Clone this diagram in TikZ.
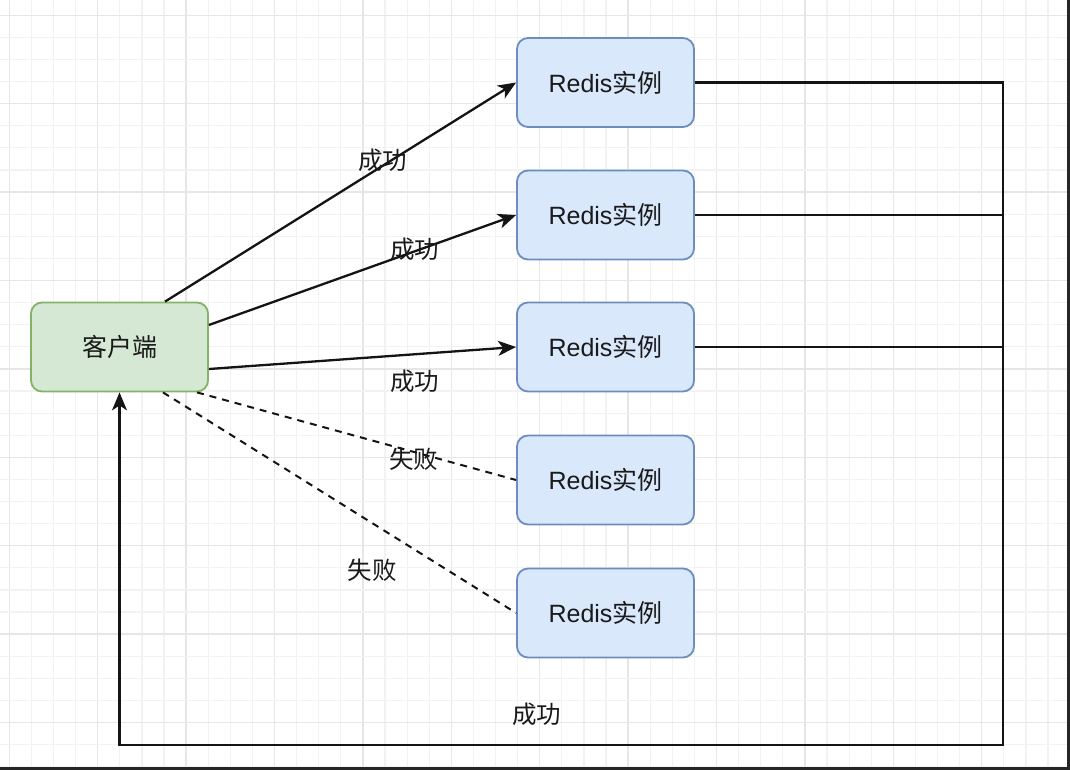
\documentclass[tikz,border=0pt]{standalone}
\usepackage{fontspec}
\setmainfont{Liberation Sans}
\newfontfamily\cjk{Noto Sans CJK SC}
\usetikzlibrary{arrows.meta,calc}
\definecolor{gridminor}{HTML}{F2F2F2}
\definecolor{gridmajor}{HTML}{E6E6E6}
\definecolor{greenfill}{HTML}{D5E8D4}
\definecolor{greendraw}{HTML}{82B366}
\definecolor{bluefill}{HTML}{DAE8FC}
\definecolor{bluedraw}{HTML}{6C8EBF}
\definecolor{txt}{HTML}{1A1A1A}
\tikzset{
  box/.style={rounded corners=11pt, minimum width=177pt, minimum height=89pt, line width=1.8pt, inner sep=0pt,
    font=\fontsize{25}{30}\selectfont, text=txt},
  clientbox/.style={box, fill=greenfill, draw=greendraw},
  redisbox/.style={box, fill=bluefill, draw=bluedraw},
  conn/.style={line width=2.3pt, draw=black!92},
  arr/.style={conn, -{Stealth[length=18pt,width=15pt,inset=5pt]}},
  dashline/.style={conn, line width=2pt, dash pattern=on 7pt off 6pt},
  lbl/.style={inner sep=1.5pt, font=\fontsize{24.5}{28}\selectfont\cjk, text=txt}
}
\begin{document}
\begin{tikzpicture}[x=1pt,y=-1pt]
\useasboundingbox (0,0) rectangle (1070,770);
% grid
\foreach \i in {0,...,48}{
  \pgfmathsetmacro{\gx}{9.3+22.1*\i}
  \pgfmathtruncatemacro{\m}{mod(\i,4)}
  \ifnum\m=0 \draw[gridmajor, line width=1.4pt] (\gx,0) -- (\gx,770);
  \else \draw[gridminor, line width=1.2pt] (\gx,0) -- (\gx,770); \fi
}
\foreach \j in {0,...,34}{
  \pgfmathsetmacro{\gy}{15.3+22.1*\j}
  \pgfmathtruncatemacro{\m}{mod(\j,4)}
  \ifnum\m=0 \draw[gridmajor, line width=1.4pt] (0,\gy) -- (1070,\gy);
  \else \draw[gridminor, line width=1.2pt] (0,\gy) -- (1070,\gy); \fi
}
% frame shadow
\fill[black!85] (1067,0) rectangle (1070,770);
\fill[black!85] (0,767) rectangle (1070,770);

% nodes
\node[clientbox] (client) at (119.5,347) {\cjk 客户端};
\node[redisbox] (r1) at (605.5,82.5) {Redis{\cjk 实例}};
\node[redisbox] (r2) at (605.5,215) {Redis{\cjk 实例}};
\node[redisbox] (r3) at (605.5,347) {Redis{\cjk 实例}};
\node[redisbox] (r4) at (605.5,480) {Redis{\cjk 实例}};
\node[redisbox] (r5) at (605.5,613) {Redis{\cjk 实例}};
\coordinate (bus) at (1003,745);

% connectors
\draw[arr] ($(client.north)+(45.5,0)$) -- (r1.west) node[lbl, pos=0.62, yshift=5pt] {成功};
\draw[arr] ($(client.east)+(0,-22)$) -- (r2.west) node[lbl, pos=0.67, yshift=2pt] {成功};
\draw[arr] ($(client.east)+(0,22)$) -- (r3.west) node[lbl, pos=0.67, yshift=-27pt] {成功};
\draw[dashline] ($(client.south)+(77.5,0)$) -- (r4.west) node[lbl, pos=0.68, yshift=-7pt] {失败};
\draw[dashline] ($(client.south)+(43.5,0)$) -- (r5.west) node[lbl, pos=0.593, yshift=-47pt] {失败};
\draw[conn] (r2.east) -- (r2.east -| bus);
\draw[conn] (r3.east) -- (r3.east -| bus);
\draw[arr] (r1.east) -| (bus) -| (client.south) node[lbl, pos=0.264, yshift=31pt] {成功};
\end{tikzpicture}
\end{document}
